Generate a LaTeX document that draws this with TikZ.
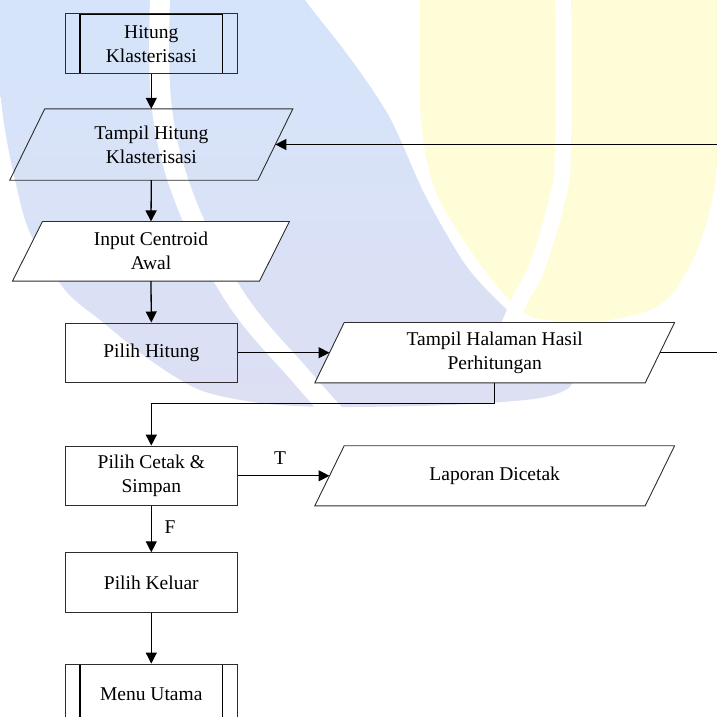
\documentclass[tikz,border=0pt]{standalone}
\usepackage{fontspec}
\setmainfont{Liberation Serif}
\usetikzlibrary{arrows.meta,calc,backgrounds}
\definecolor{wmblue}{RGB}{212,229,251}
\definecolor{wmlav}{RGB}{221,223,243}
\definecolor{wmyel}{RGB}{255,252,216}
\definecolor{boxline}{RGB}{45,45,45}
\newcommand\ioshape[3][]{%
  \draw[boxline, line width=0.9pt, #1]
    ($(#2.north west)+(#3,0)$) -- ($(#2.north east)+(#3,0)$) --
    ($(#2.south east)-(#3,0)$) -- ($(#2.south west)-(#3,0)$) -- cycle;}
\begin{document}
\begin{tikzpicture}[x=1pt,y=-1pt,
  every node/.style={font=\fontsize{19.5}{24}\selectfont, align=center, inner sep=0pt},
  procbox/.style={draw=boxline, line width=0.9pt, minimum width=172pt, minimum height=59.5pt},
  subbox/.style={procbox, path picture={
      \draw[line width=1.7pt, black]
        ([xshift=14.7pt]path picture bounding box.north west) rectangle
        ([xshift=-14.7pt]path picture bounding box.south east);}},
  arr/.style={line width=1.3pt, black, -{Triangle[length=11pt,width=11pt]}},
  lbl/.style={font=\fontsize{19.5}{24}\selectfont}]
\useasboundingbox (0,0) rectangle (716,717);

% watermark
\begin{pgfonlayer}{background}
  \shade[top color=wmblue, bottom color=wmlav]
    (-40,-40) -- (280,-40) -- plot[smooth, tension=0.5] coordinates {(280,-40) (305,0) (350,58)
      (390,118) (425,195) (467,267) (510,313) (548,350) (572,383) (540,398)
      (450,405) (330,407) (260,403) (200,390) (150,360) (100,320) (65,290)
      (30,233) (15,180) (5,130) (0,90) (-3,50)} -- (-40,50) -- cycle;
  \draw[white, line width=20pt]
    plot[smooth, tension=0.6] coordinates {(161,-30) (161,100) (185,200) (237,300) (300,375) (340,420)};
  \fill[wmyel]
    (420,-40) -- plot[smooth, tension=0.5] coordinates {(420,-40) (420,0) (421,120) (435,190)
      (470,250) (505,295) (535,318) (600,321) (650,310) (675,290) (695,255)
      (710,210) (718,150) (720,0) (720,-40)} -- cycle;
  \draw[white, line width=16pt]
    plot[smooth, tension=0.6] coordinates {(563,-30) (563,150) (557,200) (537,267) (520,300) (505,335)};
\end{pgfonlayer}

% nodes
\node[subbox] (n1) at (151.3,43.7) {Hitung\\Klasterisasi};
\node[minimum width=247.7pt, minimum height=71pt] (n2) at (151.3,144.5) {Tampil Hitung\\Klasterisasi};
\node[minimum width=246.6pt, minimum height=59.3pt] (n3) at (151,251.3) {Input Centroid\\Awal};
\node[procbox] (n4) at (151.3,352.7) {Pilih Hitung};
\node[minimum width=330pt, minimum height=60pt] (n5) at (494.7,352.7) {Tampil Halaman Hasil\\Perhitungan};
\node[procbox] (n6) at (151.3,475.8) {Pilih Cetak \&\\Simpan};
\node[minimum width=330pt, minimum height=59.7pt] (n7) at (494.7,475.8) {Laporan Dicetak};
\node[procbox] (n8) at (151.3,582.5) {Pilih Keluar};
\node[subbox] (n9) at (151.3,693.8) {Menu Utama};

\begin{pgfonlayer}{background}
  \ioshape{n2}{17.5}
  \ioshape[fill=white]{n3}{15}
  \ioshape[fill=white]{n5}{14.7}
  \ioshape{n7}{14.7}
\end{pgfonlayer}

% labels
\node[lbl] (lt) at (280,458) {T};
\node[lbl] (lf) at (170,527) {F};

% connectors
\draw[arr] (n1.south) -- (n2.north);
\draw[arr] (n2.south) -- (n3.north);
\draw[arr] (n3.south) -- (n4.north);
\draw[arr] (n4.east) -- (n5.west);
\coordinate (j1) at (0,403.3);
\draw[arr] (n5.south) -- (n5.south |- j1) -| (n6.north);
\draw[arr] (n5.east) -- ++(70,0) |- (n2.east);
\draw[arr] (n6.east) -- (n7.west);
\draw[arr] (n6.south) -- (n8.north);
\draw[arr] (n8.south) -- (n9.north);
\end{tikzpicture}
\end{document}
